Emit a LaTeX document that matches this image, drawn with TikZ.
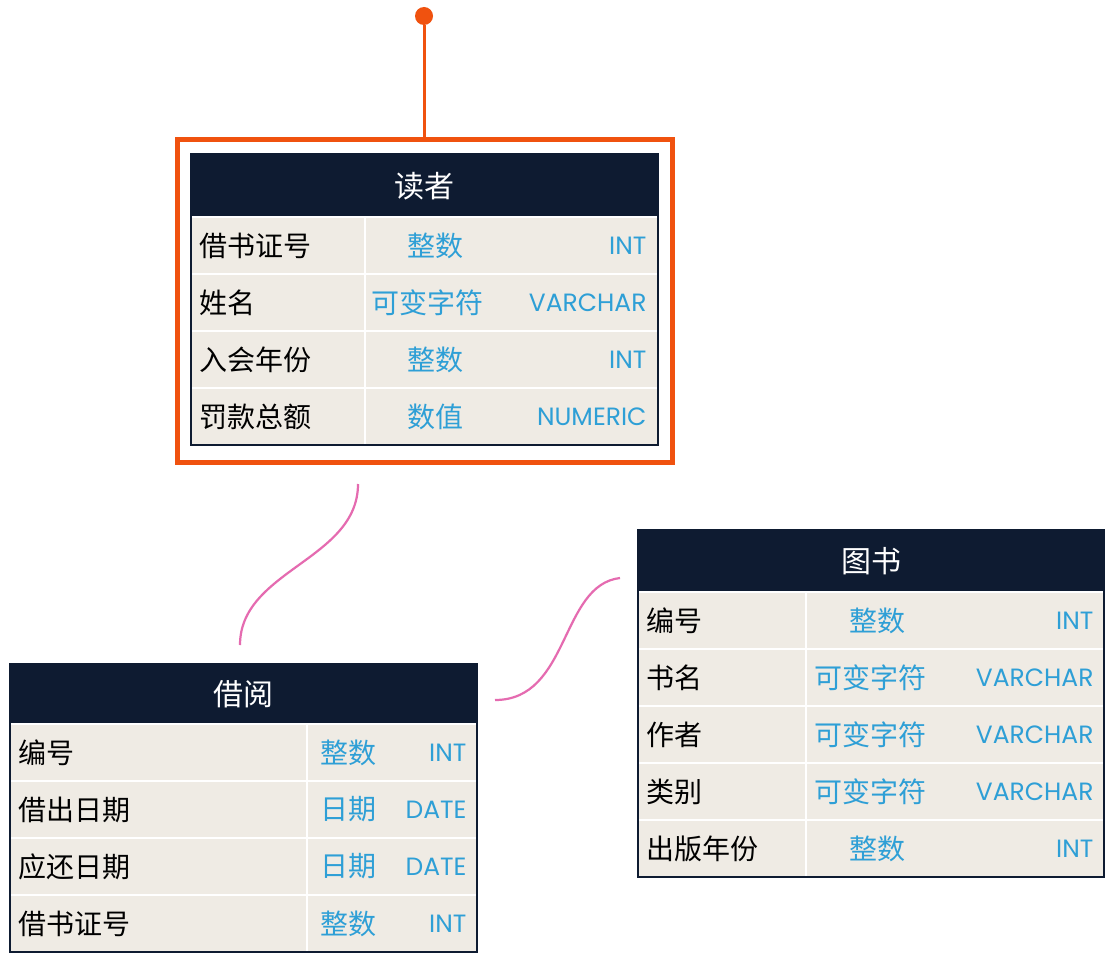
\documentclass[tikz,border=0pt]{standalone}
\usepackage{fontspec}
\setmainfont{Noto Sans CJK SC}
\newfontfamily\codefont{Poppins}
\definecolor{navy}{HTML}{0E1B31}
\definecolor{beige}{HTML}{EFEBE4}
\definecolor{typeblue}{HTML}{2E9FD6}
\definecolor{orng}{HTML}{F0520F}
\definecolor{pnk}{HTML}{E56BB0}
\begin{document}
\begin{tikzpicture}[x=1pt,y=-1pt,
  hdr/.style={fill=navy},
  title/.style={text=white,font=\fontsize{30}{32}\selectfont},
  fld/.style={anchor=west,text=black,font=\fontsize{28}{30}\selectfont},
  typ/.style={text=typeblue,font=\fontsize{28}{30}\selectfont},
  cod/.style={anchor=east,text=typeblue,font=\codefont\fontsize{25}{27}\selectfont},
  sep/.style={white,line width=2},
  frame/.style={navy,line width=2},
  rel/.style={pnk,line width=2.2}]
\useasboundingbox (0,0) rectangle (1118,960);
\fill[white] (0,0) rectangle (1118,960);
% ---- 读者
\node[draw=orng,line width=5,fill=white,minimum width=495,minimum height=322,inner sep=0] (reader) at (424.5,301) {};
\fill[hdr] (191,154) rectangle (658,217);
\node[title] (t1) at (424.5,186) {读者};
\foreach \n/\t/\tx/\c [count=\i] in {借书证号/整数/435/INT,姓名/可变字符 /435/VARCHAR,入会年份/整数/435/INT,罚款总额/数值/435/NUMERIC}{
  \pgfmathsetmacro\ya{217+(\i-1)*57}\pgfmathsetmacro\yb{\ya+57}\pgfmathsetmacro\ym{\ya+28.5}
  \fill[beige] (191,\ya) rectangle (658,\yb);
  \draw[sep] (191,\ya) -- (658,\ya); \draw[sep] (365,\ya) -- (365,\yb);
  \node[fld] (r1n\i) at (196,\ym) {\n};
  \node[cod] (r1c\i) at (650,\ym) {\c};
}
\node[typ] at (435,245.5) {整数};
\node[typ,anchor=west] at (368,302.5) {可变字符};
\node[typ] at (435,359.5) {整数};
\node[typ] at (435,416.5) {数值};
\draw[frame] (191,154) rectangle (658,445);
% ---- 借阅
\fill[hdr] (10,664) rectangle (477,724);
\node[title] (t2) at (243.5,694) {借阅};
\foreach \n/\t/\c [count=\i] in {编号/整数/INT,借出日期/日期/DATE,应还日期/日期/DATE,借书证号/整数/INT}{
  \pgfmathsetmacro\ya{724+(\i-1)*57}\pgfmathsetmacro\yb{\ya+57}\pgfmathsetmacro\ym{\ya+28.5}
  \fill[beige] (10,\ya) rectangle (477,\yb);
  \draw[sep] (10,\ya) -- (477,\ya); \draw[sep] (307,\ya) -- (307,\yb);
  \node[fld] (r2n\i) at (15,\ym) {\n};
  \node[typ] (r2t\i) at (348,\ym) {\t};
  \node[cod] (r2c\i) at (470,\ym) {\c};
}
\draw[frame] (10,664) rectangle (477,952);
% ---- 图书
\fill[hdr] (638,530) rectangle (1104,592);
\node[title] (t3) at (871,561) {图书};
\foreach \n/\t/\c [count=\i] in {编号/整数/INT,书名/可变字符/VARCHAR,作者/可变字符/VARCHAR,类别/可变字符/VARCHAR,出版年份/整数/INT}{
  \pgfmathsetmacro\ya{592+(\i-1)*57}\pgfmathsetmacro\yb{\ya+57}\pgfmathsetmacro\ym{\ya+28.5}
  \fill[beige] (638,\ya) rectangle (1104,\yb);
  \draw[sep] (638,\ya) -- (1104,\ya); \draw[sep] (806,\ya) -- (806,\yb);
  \node[fld] (r3n\i) at (643,\ym) {\n};
  \node[cod] (r3c\i) at (1097,\ym) {\c};
}
\node[typ] at (877,620.5) {整数};
\node[typ,anchor=west] at (811,677.5) {可变字符};
\node[typ,anchor=west] at (811,734.5) {可变字符};
\node[typ,anchor=west] at (811,791.5) {可变字符};
\node[typ] at (877,848.5) {整数};
\draw[frame] (638,530) rectangle (1104,877);
% ---- connectors
\node[circle,fill=orng,minimum size=18,inner sep=0] (dot) at (424,16) {};
\draw[orng,line width=3] (dot) -- (reader.north-|dot);
\coordinate (a1) at (358,484); \coordinate (a2) at (240,645);
\draw[rel] (a1) .. controls (358,560) and (240,570) .. (a2);
\coordinate (b1) at (620,578); \coordinate (b2) at (495,700);
\draw[rel] (b1) .. controls (560,585) and (570,700) .. (b2);
\end{tikzpicture}
\end{document}
